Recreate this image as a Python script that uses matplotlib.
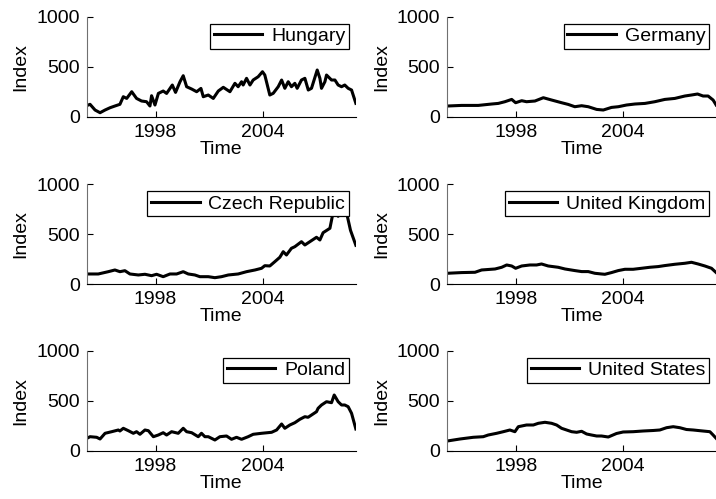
import matplotlib
matplotlib.use('Agg')
import matplotlib.pyplot as plt

plt.rcParams['font.family'] = ['Liberation Sans', 'DejaVu Sans']
plt.rcParams['font.size'] = 14

# values, index level against decimal year
hungary_t = [1994.17, 1994.34, 1994.62, 1994.9, 1995.18, 1995.46, 1995.73, 1996.01, 1996.2, 1996.39,
             1996.67, 1996.94, 1997.22, 1997.5, 1997.69, 1997.78, 1997.97, 1998.16, 1998.43, 1998.62,
             1998.94, 1999.12, 1999.37, 1999.55, 1999.74, 2000.02, 2000.3, 2000.54, 2000.67, 2000.95,
             2001.23, 2001.51, 2001.79, 2002.16, 2002.44, 2002.62, 2002.81, 2002.9, 2003.09, 2003.28,
             2003.46, 2003.74, 2003.98, 2004.11, 2004.39, 2004.58, 2004.86, 2005.05, 2005.23, 2005.42,
             2005.6, 2005.79, 2005.92, 2006.16, 2006.35, 2006.54, 2006.72, 2007.04, 2007.19, 2007.28,
             2007.47, 2007.56, 2007.84, 2008.03, 2008.21, 2008.4, 2008.58, 2008.77, 2008.96, 2009.2]
hungary = [112, 124, 67, 40, 67, 90, 107, 124, 200, 183,
           250, 183, 157, 150, 107, 210, 117, 233, 257, 233,
           317, 243, 350, 410, 300, 277, 250, 283, 200, 217,
           183, 257, 294, 250, 334, 300, 350, 317, 384, 317,
           367, 400, 450, 417, 217, 234, 300, 367, 284, 350,
           300, 334, 284, 367, 384, 267, 284, 467, 384, 284,
           350, 417, 367, 367, 317, 300, 317, 284, 267, 134]

germany_t = [1994.17, 1994.97, 1995.9, 1996.65, 1997.02, 1997.39, 1997.77, 1997.99, 1998.33, 1998.6,
             1999.07, 1999.54, 2000.0, 2000.56, 2000.93, 2001.3, 2001.68, 2002.05, 2002.52, 2002.89,
             2003.35, 2003.73, 2004.19, 2004.66, 2005.22, 2005.77, 2006.33, 2006.89, 2007.45, 2007.82,
             2008.16, 2008.47, 2008.75, 2009.03, 2009.2]
germany = [107, 113, 113, 127, 133, 150, 173, 140, 160, 150,
           157, 190, 167, 140, 123, 100, 110, 100, 73, 67,
           93, 100, 117, 127, 133, 150, 173, 183, 207, 217,
           227, 207, 207, 167, 117]

czech_t = [1994.17, 1994.8, 1995.36, 1995.73, 1996.01, 1996.29, 1996.57, 1997.04, 1997.41, 1997.78,
           1998.06, 1998.43, 1998.81, 1999.18, 1999.55, 1999.83, 2000.2, 2000.48, 2000.95, 2001.32,
           2001.69, 2002.07, 2002.62, 2003.09, 2003.56, 2003.93, 2004.11, 2004.39, 2004.67, 2004.95,
           2005.14, 2005.32, 2005.6, 2005.79, 2006.16, 2006.35, 2006.63, 2007.0, 2007.19, 2007.37,
           2007.75, 2007.93, 2008.1, 2008.21, 2008.45, 2008.7, 2008.9, 2009.2]
czech = [103, 103, 126, 143, 126, 136, 103, 93, 100, 86,
         100, 76, 103, 103, 126, 103, 93, 76, 76, 66,
         76, 93, 103, 126, 143, 160, 186, 183, 226, 270,
         326, 293, 360, 376, 426, 393, 426, 470, 443, 516,
         560, 720, 760, 680, 760, 700, 540, 390]

uk_t = [1994.17, 1994.97, 1995.72, 1996.09, 1996.84, 1997.21, 1997.49, 1997.77, 1997.99, 1998.33,
        1998.79, 1999.16, 1999.44, 1999.81, 2000.37, 2000.75, 2001.3, 2001.68, 2002.05, 2002.42,
        2002.79, 2002.98, 2003.35, 2003.73, 2004.1, 2004.56, 2005.03, 2005.49, 2005.96, 2006.33,
        2006.89, 2007.45, 2007.82, 2008.19, 2008.57, 2008.94, 2009.2]
uk = [110, 117, 120, 143, 153, 170, 193, 183, 160, 183,
      193, 193, 203, 183, 170, 153, 137, 127, 127, 110,
      103, 100, 117, 137, 150, 150, 160, 170, 177, 187,
      200, 210, 220, 203, 183, 160, 117]

poland_t = [1994.17, 1994.34, 1994.71, 1994.9, 1995.18, 1995.55, 1995.92, 1996.01, 1996.2, 1996.48,
            1996.76, 1996.94, 1997.13, 1997.41, 1997.6, 1997.88, 1998.16, 1998.43, 1998.62, 1998.9,
            1999.27, 1999.55, 1999.74, 2000.02, 2000.39, 2000.57, 2000.76, 2000.95, 2001.32, 2001.6,
            2001.97, 2002.25, 2002.53, 2002.81, 2003.18, 2003.46, 2003.93, 2004.49, 2004.77, 2005.05,
            2005.23, 2005.51, 2005.79, 2006.07, 2006.35, 2006.53, 2007.0, 2007.09, 2007.28, 2007.56,
            2007.84, 2007.99, 2008.21, 2008.4, 2008.58, 2008.77, 2008.96, 2009.2]
poland = [127, 143, 137, 120, 177, 193, 210, 200, 227, 203,
          177, 193, 167, 210, 203, 143, 160, 183, 160, 193,
          177, 227, 193, 183, 143, 177, 143, 143, 110, 143,
          150, 117, 137, 117, 143, 167, 177, 187, 210, 270,
          227, 260, 283, 317, 343, 337, 393, 427, 460, 493,
          483, 560, 493, 460, 460, 443, 377, 220]

us_t = [1994.17, 1994.88, 1995.62, 1996.18, 1996.46, 1996.93, 1997.3, 1997.67, 1997.95, 1998.14,
        1998.6, 1998.98, 1999.26, 1999.63, 2000.0, 2000.28, 2000.56, 2000.84, 2001.12, 2001.4,
        2001.68, 2001.96, 2002.23, 2002.52, 2002.79, 2003.17, 2003.63, 2004.0, 2004.56, 2005.12,
        2005.68, 2006.05, 2006.43, 2006.8, 2007.17, 2007.54, 2007.92, 2008.29, 2008.85, 2009.03, 2009.2]
us = [100, 120, 137, 143, 160, 177, 193, 210, 193, 243,
      260, 260, 277, 287, 277, 260, 227, 210, 193, 187,
      197, 170, 160, 150, 150, 140, 175, 190, 193, 200,
      205, 210, 233, 243, 233, 215, 210, 203, 193, 160, 127]

panels = [
    ('Hungary', hungary_t, hungary),
    ('Germany', germany_t, germany),
    ('Czech Republic', czech_t, czech),
    ('United Kingdom', uk_t, uk),
    ('Poland', poland_t, poland),
    ('United States', us_t, us),
]

fig = plt.figure(figsize=(7.16, 4.99), dpi=100)

col_x = [0.1215, 0.6247]
col_w = 0.3755
row_y = [0.7661, 0.4303, 0.0962]
row_h = 0.2004

for i, (name, t, v) in enumerate(panels):
    r, c = divmod(i, 2)
    ax = fig.add_axes([col_x[c], row_y[r], col_w, row_h])
    ax.plot(t, v, color='black', linewidth=2.2, label=name)
    ax.set_xlim(1994.17, 2009.2)
    ax.set_ylim(0, 1000)
    ax.set_xticks([1998, 2004])
    ax.set_xticklabels(['1998', '2004'])
    ax.set_yticks([0, 500, 1000])
    ax.spines['top'].set_visible(False)
    ax.spines['right'].set_visible(False)
    ax.spines['left'].set_color('#707070')
    ax.spines['bottom'].set_color('black')
    ax.tick_params(direction='in', length=4, width=0.8, pad=5)
    ax.set_xlabel('Time', labelpad=0)
    ax.set_ylabel('Index', labelpad=5)
    leg = ax.legend(loc='upper right', handlelength=2.5, handletextpad=0.45,
                    borderpad=0.2, borderaxespad=0.35, fancybox=False,
                    framealpha=1, edgecolor='black')
    leg.get_frame().set_linewidth(0.9)

fig.savefig('out.png', dpi=100)
